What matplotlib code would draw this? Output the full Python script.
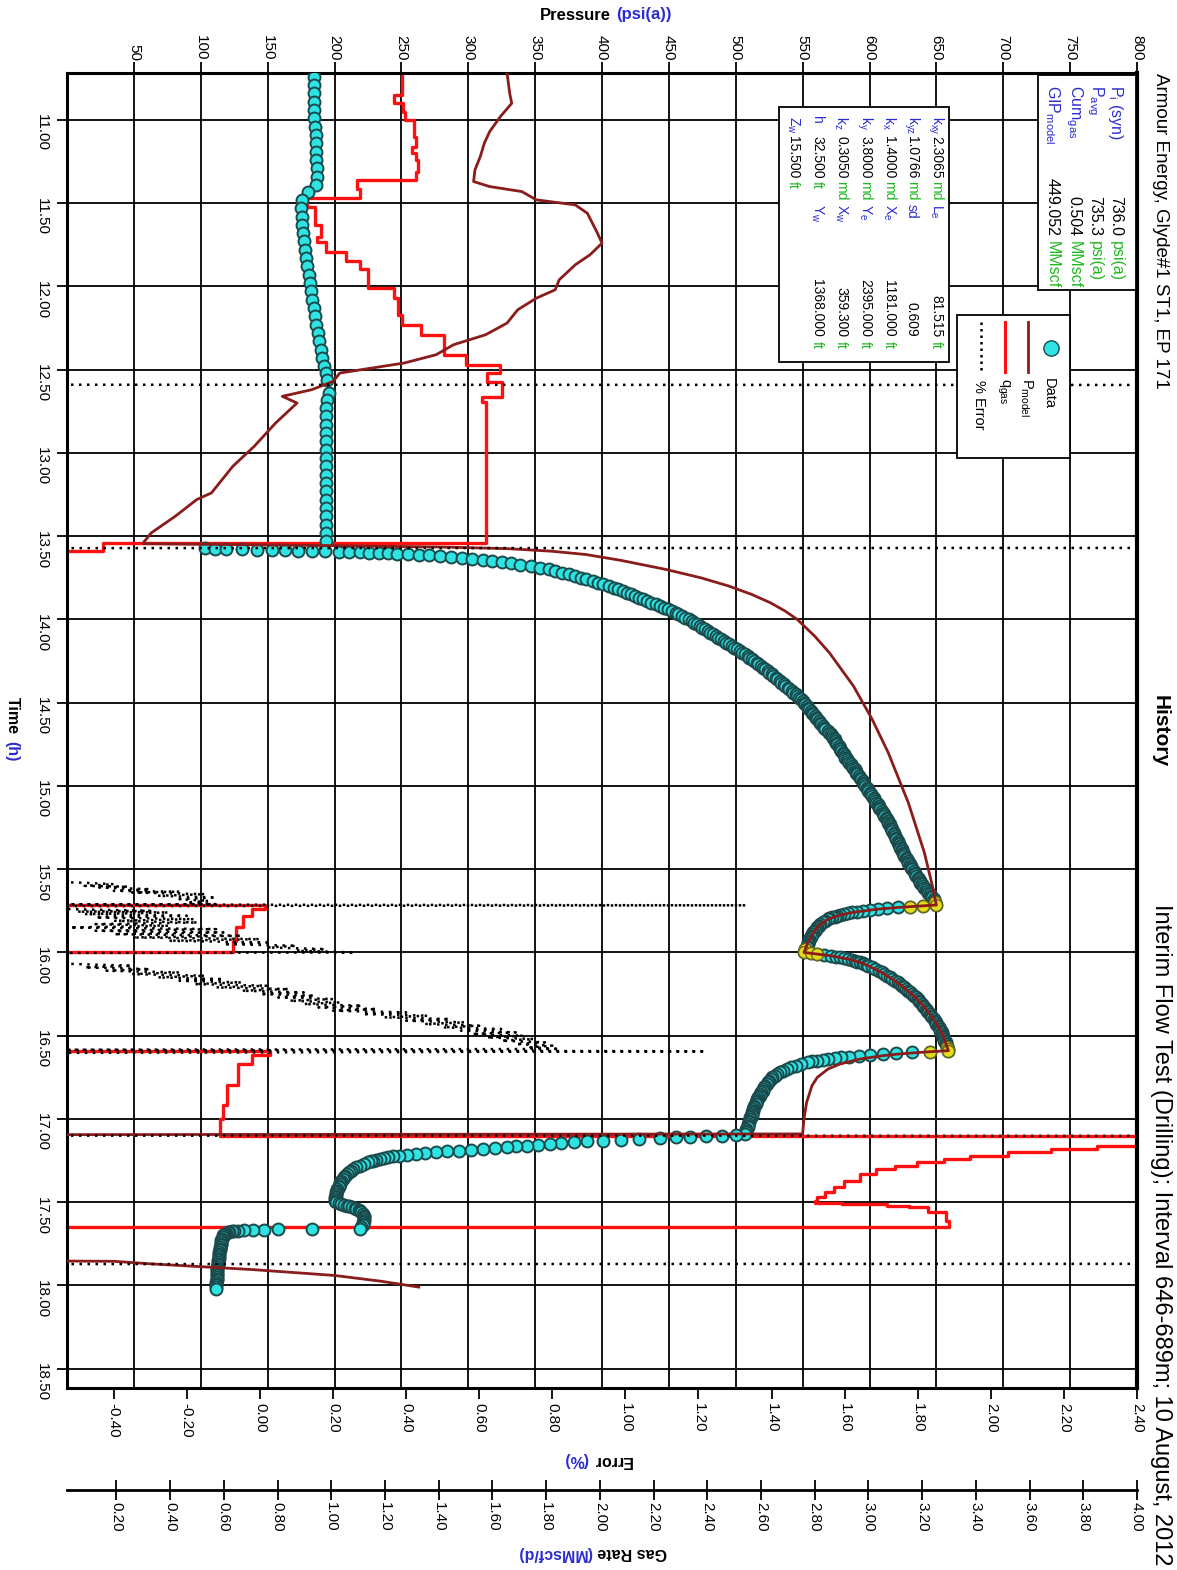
import matplotlib
matplotlib.use("Agg")
import matplotlib.pyplot as plt
from matplotlib.patches import Rectangle
from matplotlib.lines import Line2D

plt.rcParams["font.family"] = ["Liberation Sans", "DejaVu Sans"]
plt.rcParams["mathtext.fontset"] = "custom"
plt.rcParams["mathtext.rm"] = "Liberation Sans"
plt.rcParams["mathtext.it"] = "Liberation Sans:italic"
plt.rcParams["mathtext.bf"] = "Liberation Sans:bold"

# ---------------------------------------------------------------- data
# Measured pressure (time h, pressure psi(a)), one list per test period
flow1 = [(10.74, 185.0), (10.79, 185.0), (10.84, 184.5), (10.89, 184.5), (10.94, 184.8),
         (10.99, 185.0), (11.04, 185.5), (11.09, 185.8), (11.14, 186.0), (11.19, 186.2),
         (11.24, 186.5), (11.29, 186.6), (11.34, 186.8), (11.39, 186.5), (11.43, 180.0),
         (11.48, 176.0), (11.53, 175.0), (11.58, 175.5), (11.63, 176.0), (11.68, 176.8),
         (11.73, 177.5), (11.78, 178.0), (11.83, 178.8), (11.88, 179.6), (11.93, 180.6),
         (11.98, 181.6), (12.03, 182.5), (12.08, 183.4), (12.13, 184.4), (12.18, 185.4),
         (12.23, 186.4), (12.28, 187.5), (12.33, 188.6), (12.38, 189.8), (12.43, 191.0),
         (12.48, 192.5), (12.52, 194.0), (12.56, 194.5), (12.64, 196.0), (12.68, 194.5),
         (12.73, 194.0), (12.78, 193.8), (12.83, 193.6), (12.88, 193.5), (12.93, 193.4),
         (12.98, 193.4), (13.03, 193.3), (13.08, 193.3), (13.13, 193.3), (13.18, 193.3),
         (13.23, 193.3), (13.28, 193.3), (13.33, 193.3), (13.38, 193.3), (13.43, 193.3),
         (13.48, 193.3), (13.53, 193.3)]

buildup1 = [(13.572, 103), (13.574, 111), (13.576, 119), (13.578, 131), (13.580, 142),
            (13.582, 153), (13.584, 163), (13.586, 173), (13.588, 183), (13.590, 193),
            (13.592, 203), (13.594, 211), (13.596, 219), (13.598, 226), (13.600, 233),
            (13.602, 240), (13.604, 247), (13.607, 255), (13.610, 263), (13.614, 271),
            (13.618, 279), (13.623, 287), (13.628, 295), (13.634, 303), (13.640, 311),
            (13.647, 318), (13.654, 325), (13.662, 332), (13.670, 339), (13.680, 347),
            (13.690, 354),
            (13.70, 360), (13.71, 365), (13.72, 370), (13.73, 375), (13.74, 380),
            (13.75, 384), (13.76, 388), (13.77, 393), (13.78, 397), (13.79, 401),
            (13.80, 405), (13.81, 409), (13.82, 412), (13.83, 416), (13.84, 419),
            (13.85, 422), (13.86, 425), (13.87, 428), (13.88, 431), (13.89, 434),
            (13.90, 437), (13.91, 440), (13.92, 443), (13.93, 446), (13.94, 449),
            (13.95, 452), (13.96, 455), (13.97, 457), (13.98, 460), (13.99, 462),
            (14.00, 465), (14.01, 467), (14.02, 469), (14.03, 471), (14.04, 473),
            (14.05, 475), (14.06, 477), (14.07, 479), (14.08, 481), (14.09, 483),
            (14.10, 485), (14.11, 487), (14.12, 489), (14.13, 491), (14.14, 493),
            (14.15, 495), (14.16, 497), (14.17, 499), (14.18, 501), (14.19, 503),
            (14.20, 505), (14.21, 507), (14.22, 509), (14.23, 510), (14.24, 512),
            (14.25, 514), (14.26, 516), (14.27, 517), (14.28, 519), (14.29, 520),
            (14.30, 522), (14.31, 524), (14.32, 525), (14.33, 527), (14.34, 528),
            (14.35, 530), (14.36, 531), (14.37, 533), (14.38, 534), (14.39, 536),
            (14.40, 537), (14.41, 539), (14.42, 540), (14.43, 542), (14.44, 543),
            (14.45, 545), (14.46, 546), (14.47, 547), (14.48, 549), (14.49, 550),
            (14.50, 551), (14.51, 552), (14.52, 553), (14.53, 554), (14.54, 555),
            (14.55, 556), (14.56, 557), (14.57, 558), (14.58, 559), (14.59, 560),
            (14.60, 561), (14.61, 562), (14.62, 563), (14.63, 564), (14.64, 565),
            (14.65, 566), (14.66, 567), (14.67, 569), (14.68, 570), (14.69, 571),
            (14.70, 572), (14.71, 573), (14.72, 574), (14.73, 574), (14.74, 575),
            (14.75, 576), (14.76, 577), (14.77, 578), (14.78, 578), (14.79, 579),
            (14.80, 580), (14.81, 581), (14.82, 582), (14.83, 582), (14.84, 583),
            (14.85, 584), (14.86, 585), (14.87, 586), (14.88, 587), (14.89, 588),
            (14.90, 589), (14.91, 590), (14.92, 590), (14.93, 591), (14.94, 592),
            (14.95, 593), (14.96, 594), (14.97, 595), (14.98, 595), (14.99, 596),
            (15.00, 597), (15.01, 598), (15.02, 599), (15.03, 599), (15.04, 600),
            (15.05, 601), (15.06, 602), (15.07, 603), (15.08, 603), (15.09, 604),
            (15.10, 605), (15.11, 606), (15.12, 607), (15.13, 607), (15.14, 608),
            (15.15, 609), (15.16, 610), (15.17, 611), (15.18, 611), (15.19, 612),
            (15.20, 613), (15.21, 614), (15.22, 614), (15.23, 615), (15.24, 615),
            (15.25, 616), (15.26, 617), (15.27, 617), (15.28, 618), (15.29, 618),
            (15.30, 619), (15.31, 620), (15.32, 620), (15.33, 621), (15.34, 621),
            (15.35, 622), (15.36, 623), (15.37, 623), (15.38, 624), (15.39, 624),
            (15.40, 625), (15.41, 626), (15.42, 626), (15.43, 627), (15.44, 628),
            (15.45, 629), (15.46, 629), (15.47, 630), (15.48, 631), (15.49, 631),
            (15.50, 632), (15.51, 633), (15.52, 634), (15.53, 634), (15.54, 635),
            (15.55, 636), (15.56, 637), (15.57, 638), (15.58, 638), (15.59, 639),
            (15.60, 640), (15.61, 641), (15.62, 642), (15.63, 643), (15.64, 644),
            (15.65, 645), (15.66, 646), (15.67, 647), (15.68, 648), (15.69, 648),
            (15.70, 649), (15.715, 650)]

drawdown1 = [(15.72, 640), (15.725, 630), (15.73, 621), (15.735, 613), (15.74, 606),
             (15.745, 600), (15.75, 595), (15.755, 591), (15.76, 587), (15.765, 584),
             (15.77, 581), (15.775, 578), (15.78, 576), (15.785, 574), (15.79, 572),
             (15.795, 570), (15.80, 569), (15.81, 567), (15.82, 565), (15.83, 563),
             (15.84, 562), (15.85, 561), (15.86, 560), (15.87, 559), (15.88, 558),
             (15.89, 557), (15.90, 556), (15.91, 556), (15.92, 555), (15.93, 555),
             (15.94, 554), (15.95, 554), (15.96, 553), (15.97, 553), (15.98, 552),
             (15.99, 552), (16.00, 551)]

buildup2 = [(16.005, 556), (16.01, 561), (16.015, 566), (16.02, 571), (16.025, 575),
            (16.03, 578), (16.035, 581), (16.04, 584), (16.045, 587), (16.05, 589),
            (16.055, 591), (16.06, 593), (16.065, 595), (16.07, 596), (16.075, 598),
            (16.08, 599), (16.09, 602), (16.10, 604), (16.11, 607), (16.12, 609),
            (16.13, 611), (16.14, 613), (16.15, 615), (16.16, 617), (16.17, 619),
            (16.18, 621), (16.19, 623), (16.20, 624), (16.21, 626), (16.22, 627),
            (16.23, 629), (16.24, 630), (16.25, 632), (16.26, 633), (16.27, 635),
            (16.28, 636), (16.29, 637), (16.30, 638), (16.31, 639), (16.32, 640),
            (16.33, 641), (16.34, 642), (16.35, 643), (16.36, 644), (16.37, 645),
            (16.38, 646), (16.39, 647), (16.40, 648), (16.41, 649), (16.42, 650),
            (16.43, 650), (16.44, 651), (16.45, 652), (16.46, 653), (16.47, 653),
            (16.48, 654), (16.49, 654), (16.50, 655), (16.51, 655), (16.52, 656),
            (16.53, 656), (16.54, 657), (16.55, 657), (16.56, 658), (16.57, 658),
            (16.58, 659), (16.59, 659)]

drawdown2 = [(16.595, 645), (16.60, 632), (16.605, 620), (16.61, 610), (16.615, 600),
             (16.62, 592), (16.625, 585), (16.63, 579), (16.635, 574), (16.64, 569),
             (16.645, 565), (16.65, 561), (16.655, 557), (16.66, 554), (16.67, 549),
             (16.68, 545), (16.69, 541), (16.70, 538), (16.71, 535), (16.72, 533),
             (16.73, 531), (16.74, 529), (16.75, 527), (16.76, 526), (16.77, 525),
             (16.78, 524), (16.79, 523), (16.80, 522), (16.81, 521), (16.82, 520),
             (16.83, 520), (16.84, 519), (16.85, 518), (16.86, 518), (16.87, 517),
             (16.88, 516), (16.89, 516), (16.90, 515), (16.91, 515), (16.92, 514),
             (16.93, 514), (16.94, 513), (16.95, 513), (16.96, 512), (16.97, 512),
             (16.98, 512), (16.99, 511), (17.00, 511), (17.01, 510), (17.02, 510),
             (17.03, 509), (17.04, 509), (17.05, 509), (17.06, 508), (17.07, 508),
             (17.08, 508), (17.09, 507)]

final = [(17.095, 500), (17.10, 490), (17.103, 478), (17.106, 466), (17.11, 455),
         (17.115, 443), (17.12, 428), (17.125, 414), (17.13, 401), (17.135, 389),
         (17.14, 379), (17.145, 369), (17.15, 361), (17.155, 352), (17.16, 344),
         (17.165, 336), (17.17, 329), (17.175, 320), (17.18, 311), (17.185, 302),
         (17.19, 293), (17.195, 284), (17.20, 276), (17.205, 268), (17.21, 261),
         (17.215, 254), (17.22, 248), (17.225, 244), (17.23, 240), (17.235, 237),
         (17.24, 234), (17.245, 231), (17.25, 229), (17.255, 227), (17.26, 225),
         (17.27, 222), (17.28, 219), (17.29, 216), (17.30, 214), (17.31, 212),
         (17.32, 211), (17.33, 209), (17.34, 208), (17.35, 207), (17.36, 206),
         (17.37, 205), (17.38, 204), (17.39, 204), (17.40, 203), (17.41, 203),
         (17.42, 202), (17.43, 202), (17.44, 201), (17.45, 201), (17.46, 201),
         (17.47, 200), (17.48, 200), (17.49, 200), (17.50, 201), (17.505, 203),
         (17.51, 205), (17.515, 207), (17.52, 209), (17.525, 211), (17.53, 213),
         (17.535, 215), (17.54, 216), (17.545, 218), (17.55, 219), (17.56, 220),
         (17.57, 221), (17.58, 222), (17.59, 222), (17.60, 222), (17.61, 222),
         (17.62, 221), (17.63, 221), (17.64, 221), (17.65, 220), (17.66, 219),
         (17.662, 183), (17.664, 158), (17.666, 147), (17.668, 139), (17.67, 132),
         (17.672, 128), (17.674, 125), (17.676, 123), (17.678, 121), (17.68, 120),
         (17.685, 119), (17.69, 118), (17.695, 117.5), (17.70, 117), (17.71, 116.5),
         (17.72, 116), (17.73, 115.5), (17.74, 115), (17.75, 115), (17.76, 114.8),
         (17.77, 114.5), (17.78, 114.3), (17.79, 114.1), (17.80, 114), (17.81, 113.8),
         (17.82, 113.7), (17.83, 113.5), (17.84, 113.3), (17.85, 113.2), (17.86, 113),
         (17.87, 112.9), (17.88, 112.7), (17.89, 112.5), (17.90, 112.4), (17.91, 112.2),
         (17.92, 112), (17.93, 112), (17.94, 111.9), (17.95, 111.9), (17.96, 111.8),
         (17.97, 111.8), (17.98, 111.7), (17.99, 111.6), (18.00, 111.6), (18.01, 111.5),
         (18.02, 111.5)]

# Highlighted data points at the rate changes
marked = [(15.70, 649), (15.715, 650), (15.72, 640), (15.725, 630), (15.98, 552),
          (16.00, 551), (16.005, 556), (16.01, 561), (16.57, 658), (16.58, 659),
          (16.59, 659), (16.595, 645)]

# Model pressure (time h, psi(a)); values below the axis mark the off-scale part
model = [(10.718, 329), (10.84, 331), (10.90, 332.5), (10.98, 324), (11.07, 316),
         (11.14, 312), (11.22, 309), (11.30, 305), (11.37, 304), (11.40, 316),
         (11.43, 340), (11.48, 351), (11.51, 380), (11.56, 389), (11.67, 396),
         (11.74, 400), (11.81, 391), (11.87, 380), (11.96, 368), (12.02, 365),
         (12.07, 351), (12.14, 337), (12.22, 329), (12.29, 313), (12.35, 289),
         (12.41, 276), (12.46, 252), (12.49, 228), (12.52, 204), (12.57, 199),
         (12.62, 183), (12.66, 161), (12.70, 172), (12.82, 156), (12.96, 140),
         (13.08, 124), (13.24, 108), (13.28, 97), (13.38, 81), (13.48, 63),
         (13.54, 57), (13.545, 57), (13.555, 180), (13.565, 280), (13.575, 330),
         (13.59, 362), (13.61, 388), (13.645, 414), (13.70, 448), (13.75, 474),
         (13.80, 495), (13.85, 512), (13.90, 526), (13.95, 537), (14.00, 546),
         (14.10, 559), (14.20, 570), (14.30, 579), (14.40, 588), (14.50, 595),
         (14.60, 602), (14.70, 608), (14.80, 614), (14.90, 619), (15.00, 624),
         (15.10, 629), (15.20, 633), (15.30, 637), (15.40, 641), (15.50, 644),
         (15.60, 647), (15.715, 650), (15.72, 640), (15.73, 621), (15.74, 606),
         (15.76, 587), (15.78, 576), (15.80, 569), (15.84, 562), (15.88, 558),
         (15.94, 554), (16.00, 551), (16.01, 561), (16.02, 571), (16.04, 584),
         (16.06, 593), (16.08, 599), (16.12, 609), (16.16, 617), (16.20, 624),
         (16.26, 633), (16.32, 640), (16.38, 646), (16.44, 651), (16.50, 655),
         (16.59, 659), (16.595, 648), (16.60, 638), (16.61, 622), (16.62, 610),
         (16.64, 593), (16.67, 578), (16.70, 569), (16.75, 561), (16.80, 557),
         (16.90, 553), (17.00, 551), (17.09, 550), (17.095, -100), (17.85, -100),
         (17.855, 35), (17.87, 62), (17.905, 139), (17.94, 200), (17.975, 235),
         (18.01, 263)]

# Gas rate (time h, MMscf/d); each rate holds until the next time
gas_rate = [(10.718, 1.264), (10.849, 1.235), (10.899, 1.268), (10.95, 1.275),
            (11.000, 1.308), (11.100, 1.315), (11.161, 1.301), (11.200, 1.315),
            (11.242, 1.324), (11.312, 1.315), (11.363, 1.095), (11.413, 1.108),
            (11.468, 0.895), (11.50, 0.908), (11.524, 0.941), (11.63, 0.961),
            (11.70, 0.948), (11.736, 0.981), (11.796, 1.055), (11.847, 1.108),
            (11.897, 1.135), (12.008, 1.235), (12.069, 1.248), (12.169, 1.262),
            (12.230, 1.335), (12.290, 1.421), (12.411, 1.501), (12.472, 1.628),
            (12.522, 1.581), (12.573, 1.635), (12.663, 1.561), (12.694, 1.575),
            (13.540, 0.149), (13.591, 0.0), (15.717, 0.753), (15.74, 0.703),
            (15.78, 0.670), (15.85, 0.645), (15.93, 0.633), (16.00, 0.0),
            (16.594, 0.770), (16.614, 0.703), (16.67, 0.653), (16.795, 0.610),
            (16.916, 0.595), (17.00, 0.587), (17.105, 4.30), (17.14, 4.00),
            (17.16, 3.85), (17.18, 3.68), (17.20, 3.52), (17.22, 3.38),
            (17.24, 3.28), (17.26, 3.18), (17.28, 3.10), (17.30, 3.03),
            (17.33, 2.97), (17.37, 2.91), (17.41, 2.87), (17.44, 2.84),
            (17.47, 2.81), (17.49, 2.80), (17.505, 2.90), (17.512, 3.07),
            (17.52, 3.15), (17.53, 3.22), (17.56, 3.29), (17.61, 3.30),
            (17.648, 0.0), (18.616, 0.0)]

# Percent error between data and model (time h, %); 3 / -1 lie off scale
pct_error = [(10.718, -1.0), (12.590, -1.0), (12.592, 3.0), (13.570, 3.0), (13.572, -1.0),
             (15.560, -1.0), (15.58, -0.50), (15.59, -0.40), (15.60, -0.48), (15.605, -0.36),
             (15.61, -0.44), (15.62, -0.30), (15.63, -0.40), (15.635, -0.22), (15.64, -0.35),
             (15.65, -0.15), (15.66, -0.28), (15.67, -0.12), (15.68, -0.22), (15.69, -0.14),
             (15.70, -0.20), (15.71, -0.12), (15.712, -0.60), (15.717, 1.33), (15.722, -0.60),
             (15.74, -0.52), (15.75, -0.30), (15.755, -0.50), (15.76, -0.25), (15.77, -0.48),
             (15.78, -0.20), (15.79, -0.45), (15.80, -0.18), (15.81, -0.40), (15.82, -0.17),
             (15.83, -0.45), (15.84, -0.25), (15.85, -0.52), (15.86, -0.12), (15.87, -0.45),
             (15.88, -0.10), (15.89, -0.40), (15.90, -0.05), (15.91, -0.35), (15.92, 0.00),
             (15.93, -0.25), (15.94, 0.03), (15.95, -0.10), (15.96, 0.10), (15.97, 0.02),
             (15.98, 0.18), (15.99, 0.10), (16.00, 0.26), (16.003, -0.60), (16.06, -0.60),
             (16.07, -0.50), (16.08, -0.35), (16.09, -0.48), (16.10, -0.30), (16.11, -0.42),
             (16.12, -0.22), (16.13, -0.35), (16.14, -0.15), (16.15, -0.28), (16.16, -0.10),
             (16.17, -0.22), (16.18, -0.05), (16.19, -0.18), (16.20, 0.02), (16.21, -0.12),
             (16.22, 0.08), (16.23, -0.05), (16.24, 0.12), (16.25, 0.00), (16.26, 0.15),
             (16.27, 0.05), (16.28, 0.20), (16.29, 0.08), (16.30, 0.22), (16.31, 0.12),
             (16.32, 0.28), (16.33, 0.16), (16.34, 0.32), (16.35, 0.20), (16.36, 0.40),
             (16.37, 0.28), (16.38, 0.46), (16.39, 0.34), (16.40, 0.52), (16.41, 0.40),
             (16.42, 0.56), (16.43, 0.45), (16.44, 0.60), (16.45, 0.50), (16.46, 0.66),
             (16.47, 0.55), (16.48, 0.70), (16.49, 0.58), (16.50, 0.72), (16.51, 0.62),
             (16.52, 0.75), (16.53, 0.66), (16.54, 0.78), (16.55, 0.70), (16.56, 0.80),
             (16.57, 0.74), (16.58, 0.82), (16.585, -0.60), (16.594, 1.22), (16.603, -0.60),
             (17.100, -1.0), (17.102, 3.0), (17.870, 3.0), (17.872, -1.0), (18.616, -1.0)]

# Axis ticks
p_ticks = [50, 100, 150, 200, 250, 300, 350, 400, 450, 500, 550, 600, 650, 700, 750, 800]
time_ticks = [11.0, 11.5, 12.0, 12.5, 13.0, 13.5, 14.0, 14.5, 15.0, 15.5, 16.0, 16.5,
              17.0, 17.5, 18.0, 18.5]
err_ticks = [-0.4, -0.2, 0.0, 0.2, 0.4, 0.6, 0.8, 1.0, 1.2, 1.4, 1.6, 1.8, 2.0, 2.2, 2.4]
rate_ticks = [0.2, 0.4, 0.6, 0.8, 1.0, 1.2, 1.4, 1.6, 1.8, 2.0, 2.2, 2.4, 2.6, 2.8, 3.0,
              3.2, 3.4, 3.6, 3.8, 4.0]

# Parameter tables
res_labels = [r"P$_\mathregular{i}$ (syn)", r"P$_\mathregular{avg}$",
              r"Cum$_\mathregular{gas}$", r"GIP$_\mathregular{model}$"]
res_values = ["736.0", "735.3", "0.504", "449.052"]
res_units = ["psi(a)", "psi(a)", "MMscf", "MMscf"]

par_labels = [r"k$_\mathregular{xy}$", r"k$_\mathregular{yz}$", r"k$_\mathregular{x}$",
              r"k$_\mathregular{y}$", r"k$_\mathregular{z}$", "h", r"Z$_\mathregular{w}$"]
par_values = ["2.3065", "1.0766", "1.4000", "3.8000", "0.3050", "32.500", "15.500"]
par_units = ["md", "md", "md", "md", "md", "ft", "ft"]
geo_labels = [r"L$_\mathregular{e}$", "sd", r"X$_\mathregular{e}$", r"Y$_\mathregular{e}$",
              r"X$_\mathregular{w}$", r"Y$_\mathregular{w}$"]
geo_values = ["81.515", "0.609", "1181.000", "2395.000", "359.300", "1368.000"]
geo_units = ["ft", "", "ft", "ft", "ft", "ft"]

# ---------------------------------------------------------------- style
CYAN = "#2fe3e3"
CYAN_EDGE = "#1b4a4d"
YELLOW = "#e2dc1e"
YELLOW_EDGE = "#6d6a12"
MODEL = "#8b1c1c"
RATE = "#ff1010"
BLUE = "#2b2bd0"
GREEN = "#1fb81f"

W, H = 1177, 1570
fig = plt.figure(figsize=(W / 100, H / 100), dpi=100)
fig.patch.set_facecolor("white")


def fx(x):
    return x / W


def fy(y):
    return 1.0 - y / H


def vtext(x, y, s, **kw):
    kw.setdefault("rotation", -90)
    return fig.text(fx(x), fy(y), s, **kw)


def box(x0, y0, x1, y1):
    fig.add_artist(Rectangle((fx(x0), fy(y1)), (x1 - x0) / W, (y1 - y0) / H,
                             transform=fig.transFigure, facecolor="white",
                             edgecolor="black", linewidth=1.3, zorder=5))


def split(pairs):
    return [a for a, _ in pairs], [b for _, b in pairs]


L, R, T, B = 67, 1137, 73, 1388
ax = fig.add_axes([fx(L), fy(B), (R - L) / W, (B - T) / H])
ax_e = ax.twiny()
ax_q = ax.twiny()

# ---------------------------------------------------------------- marks
q_t, q_v = split(gas_rate)
ax.plot(q_v, q_t, color=RATE, lw=2.4, drawstyle="steps-pre",
        transform=ax_q.transData, zorder=2)

t_data, p_data = split(flow1 + buildup1 + drawdown1 + buildup2 + drawdown2 + final)
ax.plot(p_data, t_data, linestyle="none", marker="o", ms=8.6, mfc=CYAN,
        mec=CYAN_EDGE, mew=1.4, zorder=3)
t_mk, p_mk = split(marked)
ax.plot(p_mk, t_mk, linestyle="none", marker="o", ms=8.6, mfc=YELLOW,
        mec=YELLOW_EDGE, mew=1.0, zorder=3.2)

t_model, p_model = split(model)
ax.plot(p_model, t_model, color=MODEL, lw=2.0, zorder=4)

e_t, e_v = split(pct_error)
ax.plot(e_v, e_t, color="black", lw=1.8, linestyle=(0, (1, 2.2)),
        transform=ax_e.transData, zorder=5)

ax.set_xlim(0, 800)
ax.set_ylim(18.616, 10.718)
ax_e.set_xlim(-0.528, 2.40)
ax_q.set_xlim(0.016, 4.0)

# ---------------------------------------------------------------- axes
ax.set_axisbelow(True)
ax.grid(True, color="black", lw=1.3)
for s in ax.spines.values():
    s.set_linewidth(2.2)
ax.spines["right"].set_linewidth(3.0)

ax.xaxis.set_ticks_position("top")
ax.set_xticks(p_ticks)
ax.set_xticklabels([str(v) for v in p_ticks])
ax.tick_params(axis="x", top=True, bottom=False, labeltop=True, labelbottom=False,
               direction="out", length=8, width=1.3, labelrotation=-90,
               labelsize=11, pad=1)
ax.set_yticks(time_ticks)
ax.set_yticklabels(["%.2f" % v for v in time_ticks])
ax.tick_params(axis="y", left=True, right=False, direction="out", length=7,
               width=1.3, labelrotation=-90, labelsize=11, pad=6)

for a in (ax_e, ax_q):
    a.patch.set_visible(False)
    for side in ("top", "left", "right"):
        a.spines[side].set_visible(False)
    a.xaxis.set_ticks_position("bottom")
    a.xaxis.set_label_position("bottom")

ax_e.spines["bottom"].set_visible(False)
ax_e.set_xticks(err_ticks)
ax_e.set_xticklabels(["%.2f" % v for v in err_ticks])
ax_e.tick_params(axis="x", bottom=True, top=False, labelbottom=True, labeltop=False,
                 direction="out", length=8, width=1.3, labelrotation=-90,
                 labelsize=11, pad=3)

ax_q.spines["bottom"].set_position(("outward", 73.4))
ax_q.spines["bottom"].set_linewidth(2.0)
ax_q.set_xticks(rate_ticks)
ax_q.set_xticklabels(["%.2f" % v for v in rate_ticks])
ax_q.tick_params(axis="x", bottom=True, top=False, labelbottom=True, labeltop=False,
                 direction="inout", length=14, width=1.3, labelrotation=-90,
                 labelsize=11, pad=2)

# ---------------------------------------------------------------- axis titles
fig.text(fx(611), fy(15), "Pressure", ha="right", va="center", fontsize=12,
         fontweight="bold", color="black")
fig.text(fx(616), fy(15), "(psi(a))", ha="left", va="center", fontsize=12,
         fontweight="bold", color=BLUE)
vtext(12, 697, "Time", ha="center", va="top", fontsize=11.5, fontweight="bold")
vtext(12, 741, "(h)", ha="center", va="top", fontsize=11.5, fontweight="bold",
      color=BLUE)
fig.text(fx(593), fy(1460), "Error", rotation=180, ha="left", va="center",
         fontsize=11.5, fontweight="bold")
fig.text(fx(588), fy(1460), "(%)", rotation=180, ha="right", va="center",
         fontsize=11.5, fontweight="bold", color=BLUE)
fig.text(fx(597), fy(1553), "Gas Rate", rotation=180, ha="left", va="center",
         fontsize=11.5, fontweight="bold")
fig.text(fx(592), fy(1553), "(MMscf/d)", rotation=180, ha="right", va="center",
         fontsize=11.5, fontweight="bold", color=BLUE)

# ---------------------------------------------------------------- headings
vtext(1160, 73, "Armour Energy, Glyde#1 ST1, EP 171", ha="center", va="top",
      fontsize=13.5)
vtext(1160, 731, "History", ha="center", va="center", fontsize=15,
      fontweight="bold")
vtext(1161, 1566, "Interim Flow Test (Drilling); Interval 646-689m; 10 August, 2012",
      ha="center", va="bottom", fontsize=17)

# ---------------------------------------------------------------- result box
box(1038, 75, 1136, 290)
for i, x in enumerate([1116, 1095, 1074, 1052]):
    vtext(x, 85, res_labels[i], ha="center", va="top", fontsize=11.5, color=BLUE,
          zorder=6)
    vtext(x, 236, res_values[i], ha="center", va="bottom", fontsize=11.5,
          color="black", zorder=6)
    vtext(x, 241, res_units[i], ha="center", va="top", fontsize=11.5, color=GREEN,
          zorder=6)

# ---------------------------------------------------------------- parameter box
box(779, 107, 949, 362)
cols = [936, 912, 889, 865, 841, 817, 793]
for i, x in enumerate(cols):
    vtext(x, 116, par_labels[i], ha="center", va="top", fontsize=10, color=BLUE,
          zorder=6)
    vtext(x, 136, par_values[i], ha="center", va="top", fontsize=10,
          color="black", zorder=6)
    vtext(x, 181, par_units[i], ha="center", va="top", fontsize=10, color=GREEN,
          zorder=6)
    if i < len(geo_labels):
        vtext(x, 204, geo_labels[i], ha="center", va="top", fontsize=10, color=BLUE,
              zorder=6)
        vtext(x, 337, geo_values[i], ha="center", va="bottom", fontsize=10,
              color="black", zorder=6)
        if geo_units[i]:
            vtext(x, 341, geo_units[i], ha="center", va="top", fontsize=10,
                  color=GREEN, zorder=6)

# ---------------------------------------------------------------- legend
box(957, 315, 1070, 458)
fig.add_artist(Line2D([fx(1051)], [fy(348)], transform=fig.transFigure, marker="o",
                      ms=11, mfc=CYAN, mec=CYAN_EDGE, mew=1.0, linestyle="none",
                      zorder=6))
fig.add_artist(Line2D([fx(1028), fx(1028)], [fy(322), fy(372)],
                      transform=fig.transFigure, color=MODEL, lw=2.0, zorder=6))
fig.add_artist(Line2D([fx(1005), fx(1005)], [fy(322), fy(372)],
                      transform=fig.transFigure, color=RATE, lw=2.2, zorder=6))
fig.add_artist(Line2D([fx(981), fx(981)], [fy(322), fy(372)],
                      transform=fig.transFigure, color="black", lw=1.8,
                      linestyle=(0, (1, 1.6)), zorder=6))
vtext(1049, 378, "Data", ha="center", va="top", fontsize=10.5, zorder=6)
vtext(1026, 378, r"P$_\mathregular{model}$", ha="center", va="top", fontsize=10.5,
      zorder=6)
vtext(1003, 378, r"q$_\mathregular{gas}$", ha="center", va="top", fontsize=10.5,
      zorder=6)
vtext(979, 380, "% Error", ha="center", va="top", fontsize=10.5, zorder=6)

fig.savefig("out.png", dpi=100, facecolor="white")
